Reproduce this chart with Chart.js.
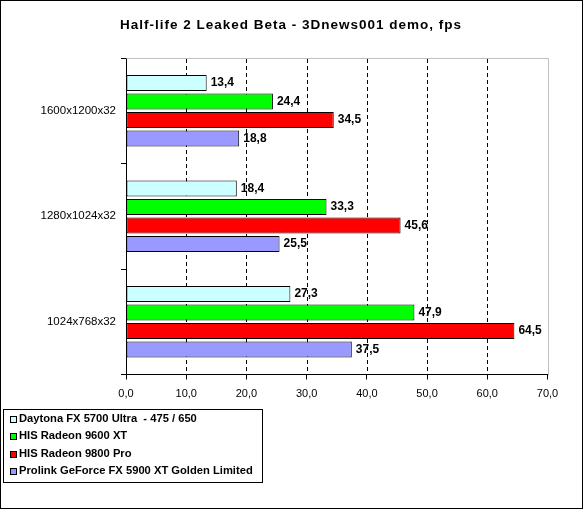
<!DOCTYPE html>
<html>
<head>
<meta charset="utf-8">
<script src="https://cdn.jsdelivr.net/npm/chart.js@4/dist/chart.umd.min.js"></script>
<style>
  html, body { margin: 0; padding: 0; background: #fff; }
  canvas { display: block; }
</style>
</head>
<body>
<canvas id="fpsChart" width="583" height="509"></canvas>
<script>
// data
const categories = ['1600x1200x32', '1280x1024x32', '1024x768x32'];
const seriesNames = [
  'Daytona FX 5700 Ultra  - 475 / 650',
  'HIS Radeon 9600 XT',
  'HIS Radeon 9800 Pro',
  'Prolink GeForce FX 5900 XT Golden Limited'
];
const daytonaFps = [13.4, 18.4, 27.3];
const radeon9600Fps = [24.4, 33.3, 47.9];
const radeon9800Fps = [34.5, 45.6, 64.5];
const prolinkFps = [18.8, 25.5, 37.5];
const seriesColors = ['#CCFFFF', '#00FF00', '#FF0000', '#9999FF'];
const xTicks = [0, 10, 20, 30, 40, 50, 60, 70];
const chartTitle = 'Half-life 2 Leaked Beta - 3Dnews001 demo, fps';

const FONT = '"Liberation Sans", Arial, sans-serif';

function fmt(v) {
  return v.toFixed(1).replace('.', ',');
}

// title, plot frame, dashed grid, value labels, legend and outer border
const decorations = {
  id: 'decorations',
  beforeDraw(chart) {
    const ctx = chart.ctx;
    ctx.save();
    ctx.fillStyle = '#fff';
    ctx.fillRect(0, 0, chart.width, chart.height);
    ctx.restore();
  },
  beforeDatasetsDraw(chart) {
    const ctx = chart.ctx;
    const a = chart.chartArea;
    const xs = chart.scales.x;
    ctx.save();
    ctx.lineWidth = 1;

    // dashed vertical gridlines at inner ticks, 4px on / 3px off
    ctx.fillStyle = '#000';
    const top = Math.round(a.top) + 1;
    const bottom = Math.round(a.bottom);
    xTicks.slice(1, -1).forEach(v => {
      const px = Math.round(xs.getPixelForValue(v));
      for (let y = top; y < bottom; y += 7) {
        ctx.fillRect(px, y, 1, Math.min(4, bottom - y));
      }
    });

    // light grey frame on top and right
    ctx.strokeStyle = '#C0C0C0';
    ctx.beginPath();
    ctx.moveTo(Math.round(a.left) + 0.5, Math.round(a.top) + 0.5);
    ctx.lineTo(Math.round(a.right) + 0.5, Math.round(a.top) + 0.5);
    ctx.lineTo(Math.round(a.right) + 0.5, Math.round(a.bottom) + 0.5);
    ctx.stroke();
    ctx.restore();
  },
  afterDraw(chart) {
    const ctx = chart.ctx;
    ctx.save();

    // title
    ctx.fillStyle = '#000';
    ctx.font = 'bold 13.5px ' + FONT;
    ctx.textAlign = 'center';
    ctx.textBaseline = 'middle';
    if ('letterSpacing' in ctx) ctx.letterSpacing = '1px';
    ctx.fillText(chartTitle, 291, 25);
    if ('letterSpacing' in ctx) ctx.letterSpacing = '0px';

    // value labels at bar ends
    ctx.font = 'bold 12px ' + FONT;
    ctx.textAlign = 'left';
    chart.data.datasets.forEach((ds, i) => {
      const meta = chart.getDatasetMeta(i);
      meta.data.forEach((bar, j) => {
        ctx.fillText(fmt(ds.data[j]), bar.x + 4, bar.y);
      });
    });

    // legend box
    ctx.font = 'bold 11.2px ' + FONT;
    ctx.strokeStyle = '#000';
    ctx.lineWidth = 1;
    ctx.strokeRect(3.5, 409.5, 259, 73);
    chart.data.datasets.forEach((ds, i) => {
      const y = 418.5 + i * 17.5;
      ctx.fillStyle = ds.backgroundColor;
      ctx.fillRect(10.5, Math.round(y - 3) + 0.5, 6, 6);
      ctx.strokeRect(10.5, Math.round(y - 3) + 0.5, 6, 6);
      ctx.fillStyle = '#000';
      ctx.fillText(ds.label, 19, y);
    });

    // outer border
    ctx.strokeRect(0.5, 0.5, chart.width - 1, chart.height - 1);
    ctx.restore();
  }
};

const seriesData = [daytonaFps, radeon9600Fps, radeon9800Fps, prolinkFps];

new Chart(document.getElementById('fpsChart').getContext('2d'), {
  type: 'bar',
  data: {
    labels: categories,
    datasets: seriesData.map((vals, i) => ({
      label: seriesNames[i],
      data: vals,
      backgroundColor: seriesColors[i],
      borderColor: '#000',
      borderWidth: 1,
      borderSkipped: false,
      categoryPercentage: 0.7,
      barPercentage: 0.87
    }))
  },
  options: {
    indexAxis: 'y',
    responsive: false,
    animation: false,
    devicePixelRatio: 1,
    layout: {
      padding: { top: 58, left: 0, right: 35.5, bottom: 104.5 }
    },
    plugins: {
      legend: { display: false },
      title: { display: false },
      tooltip: { enabled: false }
    },
    scales: {
      x: {
        min: 0,
        max: 70,
        afterBuildTicks(scale) {
          scale.ticks = xTicks.map(v => ({ value: v }));
        },
        afterFit(scale) {
          scale.height = 30;
        },
        ticks: {
          color: '#000',
          font: { family: FONT, size: 11 },
          padding: 8,
          maxRotation: 0,
          callback: v => fmt(v)
        },
        grid: {
          drawOnChartArea: false,
          tickColor: '#000',
          tickLength: 5,
          lineWidth: 1
        },
        border: { display: true, color: '#000', width: 1 }
      },
      y: {
        afterFit(scale) {
          scale.width = 126;
        },
        ticks: {
          color: '#000',
          font: { family: FONT, size: 11.5 },
          padding: 5
        },
        grid: {
          offset: true,
          drawOnChartArea: false,
          drawTicks: true,
          tickLength: 5,
          tickColor: '#000'
        },
        border: { display: true, color: '#000', width: 1 }
      }
    }
  },
  plugins: [decorations]
});
</script>
</body>
</html>
